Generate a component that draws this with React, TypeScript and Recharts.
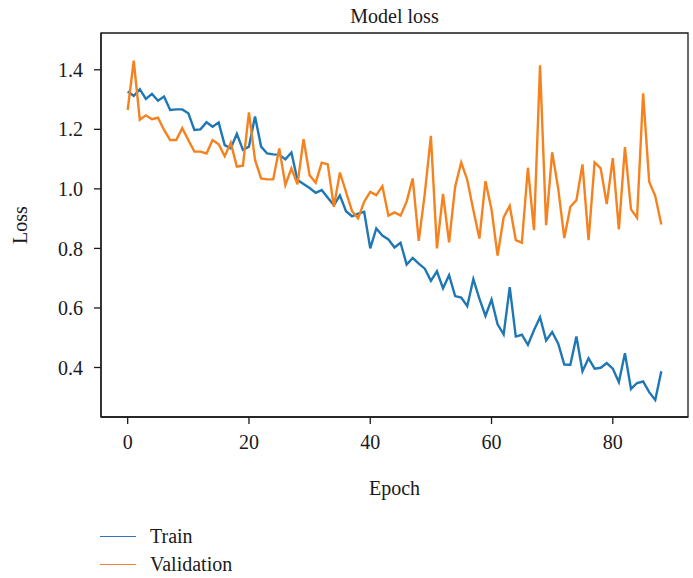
import React from "react";
import { LineChart, Line, XAxis, YAxis, Legend, Label, ReferenceArea } from "recharts";

// per-epoch loss values
const trainLoss = [
  1.327, 1.312, 1.335, 1.302, 1.319, 1.296, 1.31, 1.265, 1.267, 1.267,
  1.254, 1.198, 1.2, 1.224, 1.209, 1.223, 1.147, 1.136, 1.185, 1.131,
  1.142, 1.243, 1.142, 1.119, 1.116, 1.115, 1.099, 1.122, 1.03, 1.016,
  1.003, 0.987, 0.996, 0.97, 0.945, 0.978, 0.925, 0.908, 0.917, 0.923,
  0.8, 0.867, 0.843, 0.83, 0.803, 0.819, 0.746, 0.768, 0.749, 0.732,
  0.691, 0.723, 0.666, 0.71, 0.64, 0.635, 0.606, 0.697, 0.631, 0.573,
  0.628, 0.545, 0.511, 0.67, 0.504, 0.51, 0.476, 0.525, 0.569, 0.491,
  0.519, 0.48, 0.41, 0.409, 0.504, 0.387, 0.431, 0.396, 0.399, 0.415,
  0.396, 0.351, 0.448, 0.328, 0.348, 0.353, 0.317, 0.291, 0.387,
];

const valLoss = [
  1.265, 1.431, 1.232, 1.247, 1.234, 1.239, 1.198, 1.164, 1.164, 1.204,
  1.164, 1.125, 1.125, 1.119, 1.164, 1.15, 1.11, 1.155, 1.075, 1.078,
  1.257, 1.097, 1.035, 1.032, 1.032, 1.136, 1.013, 1.069, 1.015, 1.167,
  1.046, 1.021, 1.088, 1.082, 0.94, 1.055, 0.99, 0.925, 0.901, 0.957,
  0.99, 0.979, 1.009, 0.91, 0.921, 0.91, 0.957, 1.035, 0.825, 0.985,
  1.178, 0.8, 0.983, 0.82, 1.007, 1.089, 1.03, 0.929, 0.833, 1.026,
  0.931, 0.776, 0.904, 0.943, 0.828, 0.819, 1.071, 0.861, 1.415, 0.878,
  1.123, 1.001, 0.835, 0.94, 0.962, 1.082, 0.828, 1.089, 1.069, 0.949,
  1.103, 0.864, 1.14, 0.931, 0.903, 1.321, 1.024, 0.976, 0.88,
];

const epochTicks = [0, 20, 40, 60, 80];
const lossTicks = [0.4, 0.6, 0.8, 1.0, 1.2, 1.4];

const chartData = trainLoss.map((train, epoch) => ({
  epoch,
  train,
  validation: valLoss[epoch],
}));

const FONT = '"Liberation Serif", "DejaVu Serif", serif';
const INK = "#1a1a1a";
const X_DOMAIN: [number, number] = [-4.4, 92.4];
const Y_DOMAIN: [number, number] = [0.2337, 1.5236];

const legendItems = [
  { name: "Train", color: "#3a70c0" },
  { name: "Validation", color: "#ee7f3d" },
];

const LossLegend = () => (
  <div style={{ fontFamily: FONT, fontSize: 20, color: INK, lineHeight: "28px" }}>
    {legendItems.map((item) => (
      <div key={item.name} style={{ display: "flex", alignItems: "center" }}>
        <span
          style={{
            display: "inline-block",
            width: 36,
            height: 0,
            borderTop: `1.5px solid ${item.color}`,
            marginRight: 14,
          }}
        />
        {item.name}
      </div>
    ))}
  </div>
);

const textStyle = { fontFamily: FONT, fontSize: 20, fill: INK };

export default function App() {
  return (
    <div style={{ position: "absolute", left: 0, top: 0, width: 693, height: 578, background: "#fff" }}>
      <LineChart
        width={693}
        height={578}
        data={chartData}
        margin={{ top: 33, right: 5, left: 0, bottom: 0 }}
      >
        <XAxis
          dataKey="epoch"
          type="number"
          domain={X_DOMAIN}
          ticks={epochTicks}
          allowDataOverflow
          height={161}
          tickSize={7}
          tickMargin={11}
          tick={textStyle}
          stroke={INK}
          strokeWidth={1.3}
        >
          <Label value="Epoch" position="insideTop" offset={64} style={textStyle} />
        </XAxis>
        <YAxis
          type="number"
          domain={Y_DOMAIN}
          ticks={lossTicks}
          allowDataOverflow
          width={101}
          tickSize={7}
          tickMargin={11}
          tick={textStyle}
          tickFormatter={(v: number) => v.toFixed(1)}
          stroke={INK}
          strokeWidth={1.3}
        >
          <Label
            value="Loss"
            angle={-90}
            position="insideLeft"
            offset={20}
            style={{ ...textStyle, textAnchor: "middle" }}
          />
        </YAxis>
        {/* axes frame, with the title sitting on its top edge */}
        <ReferenceArea
          x1={X_DOMAIN[0]}
          x2={X_DOMAIN[1]}
          y1={Y_DOMAIN[0]}
          y2={Y_DOMAIN[1]}
          fill="none"
          stroke={INK}
          strokeWidth={1.3}
          ifOverflow="visible"
        >
          <Label value="Model loss" position="top" offset={10} style={textStyle} />
        </ReferenceArea>
        <Legend
          layout="vertical"
          align="center"
          verticalAlign="middle"
          wrapperStyle={{ left: 100, top: 522, width: "auto" }}
          content={<LossLegend />}
        />
        <Line
          type="linear"
          dataKey="train"
          name="Train"
          stroke="#1f77b4"
          strokeWidth={2.4}
          dot={false}
          isAnimationActive={false}
        />
        <Line
          type="linear"
          dataKey="validation"
          name="Validation"
          stroke="#f5821f"
          strokeWidth={2.4}
          dot={false}
          isAnimationActive={false}
        />
      </LineChart>
    </div>
  );
}
